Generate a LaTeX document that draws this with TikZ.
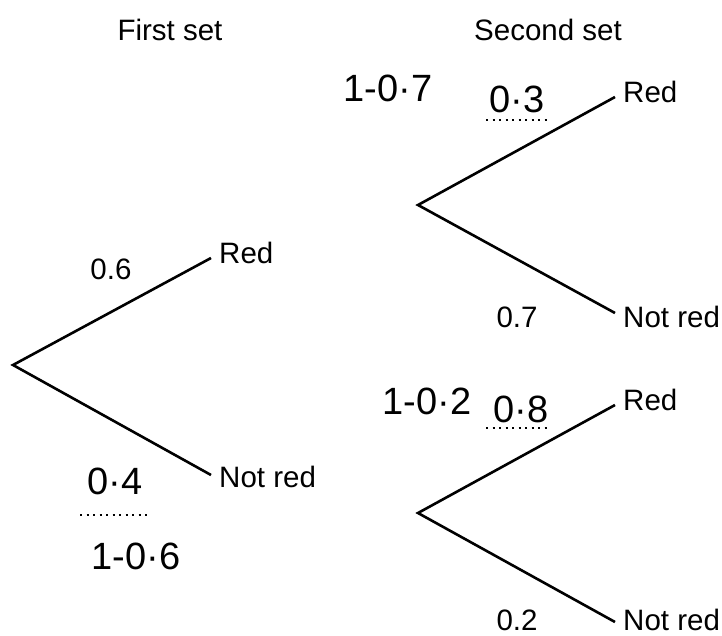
\documentclass[tikz,border=0pt]{standalone}
\usepackage{fontspec}
\setmainfont{Liberation Sans}
\begin{document}
\begin{tikzpicture}[x=1pt,y=-1pt,
  branch/.style={line width=2.6pt},
  lbl/.style={font=\fontsize{29.5}{33}\selectfont, inner sep=0pt},
  hand/.style={font=\fontsize{38}{42}\selectfont, inner sep=0pt},
  answerline/.style={line width=2pt, dash pattern=on 2pt off 4.5pt}]
\useasboundingbox (0,0) rectangle (722,635);

% headings
\node[lbl] (h1) at (170,30) {First set};
\node[lbl] (h2) at (548,30) {Second set};

% first set
\coordinate (r1) at (13,365);
\coordinate (r1a) at (211,258);
\coordinate (r1b) at (211,475);
\draw[branch] (r1a) -- (r1) -- (r1b);
\node[lbl, anchor=west] (t1a) at (219,253) {Red};
\node[lbl, anchor=west] (t1b) at (219,477) {Not red};
\node[lbl] (p1a) at (111,269) {0.6};

% second set, upper
\coordinate (r2) at (418,205);
\coordinate (r2a) at (615,97);
\coordinate (r2b) at (615,313);
\draw[branch] (r2a) -- (r2) -- (r2b);
\node[lbl, anchor=west] (t2a) at (623,92) {Red};
\node[lbl, anchor=west] (t2b) at (623,317) {Not red};
\node[lbl] (p2b) at (517,317) {0.7};

% second set, lower
\coordinate (r3) at (418,513);
\coordinate (r3a) at (615,405);
\coordinate (r3b) at (615,622);
\draw[branch] (r3a) -- (r3) -- (r3b);
\node[lbl, anchor=west] (t3a) at (623,400) {Red};
\node[lbl, anchor=west] (t3b) at (623,620) {Not red};
\node[lbl] (p3b) at (517,620) {0.2};

% working written in
\node[hand] (w1) at (388,88) {1-0·7};
\node[hand] (a1) at (517,99) {0·3};
\coordinate (d1s) at (486,120);
\coordinate (d1e) at (548,120);
\draw[answerline] (d1s) -- (d1e);

\node[hand] (w2) at (427,401) {1-0·2};
\node[hand] (a2) at (521,409) {0·8};
\coordinate (d2s) at (486,428);
\coordinate (d2e) at (548,428);
\draw[answerline] (d2s) -- (d2e);

\node[hand] (a3) at (115,481) {0·4};
\coordinate (d3s) at (80,515);
\coordinate (d3e) at (148,515);
\draw[answerline] (d3s) -- (d3e);
\node[hand] (w3) at (136,556) {1-0·6};
\end{tikzpicture}
\end{document}
